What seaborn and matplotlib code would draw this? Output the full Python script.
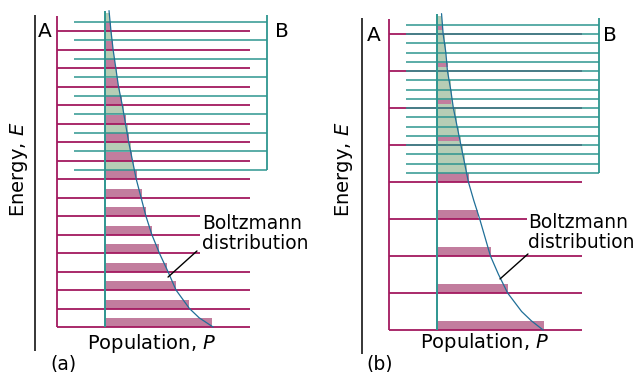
import matplotlib
matplotlib.use("Agg")
import matplotlib.pyplot as plt
import seaborn as sns

# ---------------- data ----------------
# Panel (a): system A levels (energy units) and their populations
a_levels_A = [0, 1, 2, 3, 4, 5, 6, 7, 8, 9, 10, 11, 12, 13, 14, 15, 16]
a_pop_A = [1.00, 0.786, 0.665, 0.581, 0.507, 0.442, 0.386, 0.349, 0.298,
           0.26, 0.228, 0.20, 0.167, 0.13, 0.102, 0.079, 0.056]
# Panel (a): system B levels and populations
a_levels_B = [8.5, 9.5, 10.5, 11.5, 12.5, 13.5, 14.5, 15.5, 16.5]
a_pop_B = [0.274, 0.242, 0.214, 0.186, 0.144, 0.116, 0.093, 0.07, 0.047]
# Panel (a): Boltzmann curve
a_curve_E = [0, 0.5, 1, 2, 3, 4, 5, 6, 7, 8, 9, 10, 11, 12, 13, 14, 15, 16, 17.1]
a_curve_P = [1.01, 0.88, 0.79, 0.665, 0.59, 0.51, 0.44, 0.385, 0.34, 0.295,
             0.26, 0.225, 0.195, 0.165, 0.13, 0.105, 0.08, 0.06, 0.042]

# Panel (b)
b_levels_A = [0, 2, 4, 6, 8, 10, 12, 14, 16]
b_pop_A = [1.00, 0.66, 0.505, 0.38, 0.30, 0.21, 0.135, 0.105, 0.06]
b_levels_B = [8.5, 9, 9.5, 10, 10.5, 11, 11.5, 12, 12.5, 13, 13.5, 14, 14.5,
              15, 15.5, 16, 16.5]
b_pop_B = [0.28, 0.26, 0.245, 0.225, 0.21, 0.19, 0.175, 0.155, 0.145, 0.13,
           0.115, 0.10, 0.09, 0.085, 0.075, 0.06, 0.05]
b_curve_E = [0, 0.5, 1, 2, 3, 4, 5, 6, 7, 8, 9, 10, 11, 12, 13, 14, 15, 16, 17.1]
b_curve_P = [0.99, 0.88, 0.79, 0.66, 0.575, 0.50, 0.45, 0.40, 0.345, 0.295,
             0.26, 0.225, 0.19, 0.155, 0.13, 0.10, 0.085, 0.06, 0.045]

# text
x_label = "Population, $P$"
y_label = "Energy, $E$"
curve_label = "Boltzmann\ndistribution"
panel_labels = ["(a)", "(b)"]

# ---------------- style ----------------
sns.set_theme(style="white")
plt.rcParams["font.family"] = ["DejaVu Sans"]
plt.rcParams["mathtext.fontset"] = "dejavusans"
plt.rcParams["text.color"] = "black"

MAG = "#a3195f"
PINK = "#c27d9e"
TEAL = "#2e9690"
GREEN = "#b6cdb5"
CURVE = "#1f6f98"
FS = 14
FS_CURVE = 13.4

fig = plt.figure(figsize=(6.38, 3.72), dpi=100)


def panel(ax, A_E, A_P, B_E, B_P, cE, cP, cfg):
    ax.set_xlim(*cfg["xlim"])
    ax.set_ylim(*cfg["ylim"])
    ax.set_axis_off()
    # green bars for B populations
    ax.barh(B_E, B_P, height=0.5, left=0, align="edge", color=GREEN,
            linewidth=0, zorder=1)
    # pink bars for A populations
    stacked = [cfg["pink_off"] > 0 and e >= min(B_E) for e in A_E]
    bottoms = [e + (cfg["pink_off"] if s else 0) for e, s in zip(A_E, stacked)]
    heights = [cfg["pink_h_stack"] if s else 0.47 for s in stacked]
    ax.barh(bottoms, A_P, height=heights, left=0, align="edge", color=PINK,
            linewidth=0, zorder=2)
    # A levels
    ends = [cfg["cut_end"] if e in cfg["cut"] else cfg["A_end"] for e in A_E]
    ax.hlines(A_E, cfg["A_start"], ends, color=MAG, lw=1.3, zorder=3)
    ax.vlines(cfg["A_start"], 0, 16.8, color=MAG, lw=1.3, zorder=3)
    # B levels
    ax.hlines(B_E, cfg["B_start"], cfg["B_end"], color=TEAL, lw=1.3,
              alpha=0.85, zorder=4)
    ax.vlines(cfg["B_end"], min(B_E), 16.86, color=TEAL, lw=1.3, zorder=4)
    # population zero line
    ax.vlines(0, 0, 17.1, color=TEAL, lw=1.4, zorder=4)
    # energy axis
    ax.vlines(cfg["axis_x"], -1.3, 16.86, color="black", lw=1.1, zorder=4)
    # Boltzmann curve
    sns.lineplot(x=cP, y=cE, sort=False, estimator=None, ax=ax, color=CURVE,
                 lw=0.9, zorder=5)
    # labels
    ax.text(cfg["A_txt"][0], cfg["A_txt"][1], "A", fontsize=FS + 0.5,
            ha="center", va="center", color="black")
    ax.text(cfg["B_txt"][0], cfg["B_txt"][1], "B", fontsize=FS + 0.5,
            ha="center", va="center", color="black")
    ax.text(cfg["curve_txt"][0], cfg["curve_txt"][1], curve_label,
            fontsize=FS_CURVE, ha="left", va="center", linespacing=1.05,
            zorder=6, color="black")
    ax.plot(cfg["pointer"][0], cfg["pointer"][1], color="black", lw=1.0,
            zorder=6)
    ax.text(cfg["xl"][0], cfg["xl"][1], x_label, fontsize=FS, ha="center",
            va="center", color="black")
    ax.text(cfg["yl"][0], cfg["yl"][1], y_label, fontsize=FS, ha="center",
            va="center", rotation=90, color="black")
    ax.text(cfg["pl"][0], cfg["pl"][1], cfg["plabel"], fontsize=FS - 0.5,
            ha="center", va="center", color="black")


axA = fig.add_axes([0, 0, 0.5, 1])
panel(axA, a_levels_A, a_pop_A, a_levels_B, a_pop_B, a_curve_E, a_curve_P,
      dict(xlim=(-0.9721, 1.9953), ylim=(-2.432, 17.676), pink_off=0,
           pink_h_stack=0.47, cut=[4, 5, 6], cut_end=0.888, A_start=-0.445,
           A_end=1.353, B_start=-0.284, B_end=1.512, axis_x=-0.647,
           A_txt=(-0.553, 15.95), B_txt=(1.651, 15.95),
           curve_txt=(0.905, 5.05), pointer=([0.860, 0.591], [4.11, 2.70]),
           xl=(0.442, -0.87), yl=(-0.795, 8.5), pl=(-0.386, -2.0),
           plabel=panel_labels[0]))

axB = fig.add_axes([0.5, 0, 0.5, 1])
panel(axB, b_levels_A, b_pop_A, b_levels_B, b_pop_B, b_curve_E, b_curve_P,
      dict(xlim=(-1.0949, 1.8726), ylim=(-2.270, 17.838), pink_off=0.2,
           pink_h_stack=0.24, cut=[6], cut_end=0.84, A_start=-0.444,
           A_end=1.349, B_start=-0.286, B_end=1.510, axis_x=-0.698,
           A_txt=(-0.583, 15.9), B_txt=(1.613, 15.9),
           curve_txt=(0.848, 5.27), pointer=([0.849, 0.589], [4.11, 2.76]),
           xl=(0.449, -0.70), yl=(-0.862, 8.7), pl=(-0.528, -1.84),
           plabel=panel_labels[1]))

fig.savefig("out.png", dpi=100)
